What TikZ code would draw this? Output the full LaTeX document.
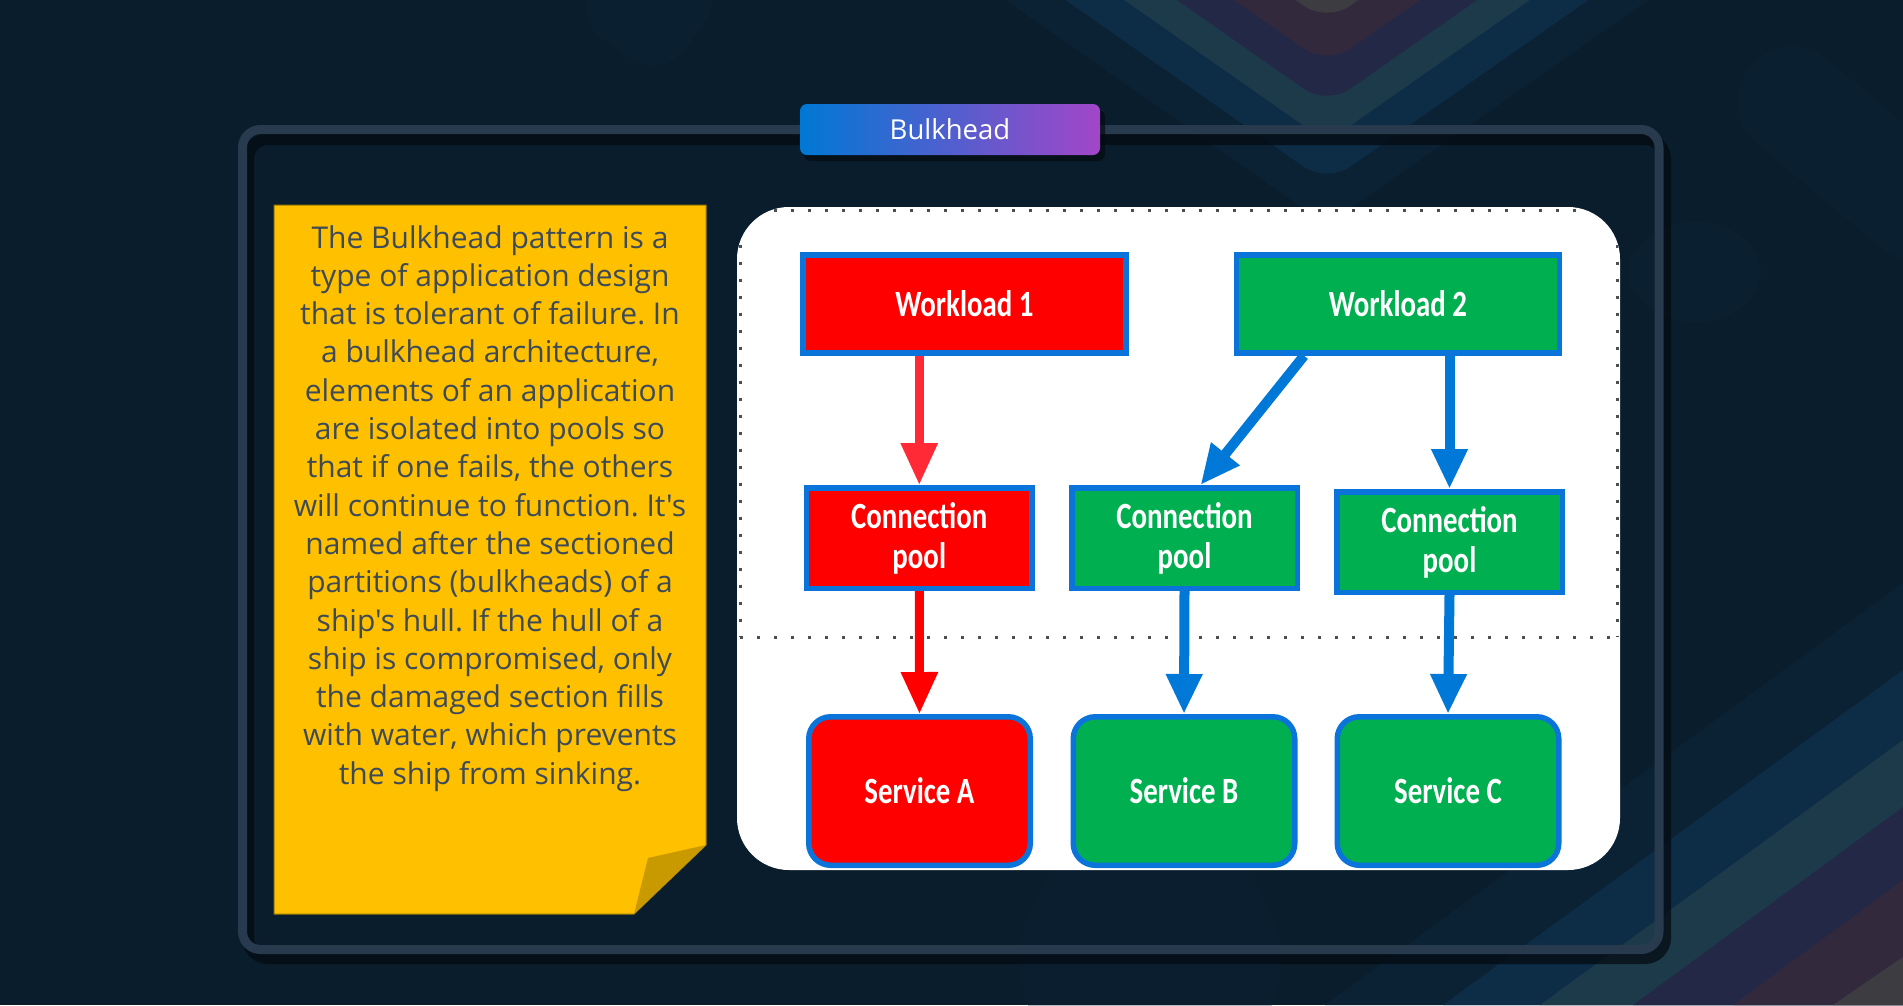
\documentclass[tikz,border=0pt]{standalone}
\usepackage{fontspec}
\setmainfont{Open Sans}
\newfontfamily\notefont{Open Sans}
\newfontfamily\boxfont[FakeStretch=0.78]{Carlito}
\usetikzlibrary{arrows.meta,calc}

\definecolor{bg}{HTML}{0A1D2C}
\definecolor{framec}{HTML}{283A4D}
\definecolor{shadowc}{HTML}{040B12}
\definecolor{noteyellow}{HTML}{FFC000}
\definecolor{notefold}{HTML}{C99A00}
\definecolor{noteedge}{HTML}{9A7800}
\definecolor{notetext}{HTML}{3D4A58}
\definecolor{boxred}{HTML}{FF0000}
\definecolor{boxgreen}{HTML}{00B050}
\definecolor{boxblue}{HTML}{0A74DA}
\definecolor{arrowblue}{HTML}{0078D7}
\definecolor{arrowred}{HTML}{FF2A36}
\definecolor{dotgray}{HTML}{4A4F56}
\definecolor{badgeL}{HTML}{0078D4}
\definecolor{badgeR}{HTML}{A246C8}
\definecolor{vA}{HTML}{0B2235}
\definecolor{vB}{HTML}{0D2C45}
\definecolor{vC}{HTML}{1D3A4A}
\definecolor{vD}{HTML}{222845}
\definecolor{vE}{HTML}{33293D}
\definecolor{vF}{HTML}{3C3C41}
\definecolor{blob}{HTML}{0C2336}

\begin{document}
\frenchspacing
\begin{tikzpicture}[x=1pt,y=-1pt,
  flowbox/.style={draw=boxblue, line width=5.5pt, text=white,
    font=\boxfont\bfseries\fontsize{37}{40}\selectfont, align=center, inner sep=0pt},
  redbox/.style={flowbox, fill=boxred},
  greenbox/.style={flowbox, fill=boxgreen},
  wlbox/.style={minimum width=323pt, minimum height=98pt},
  cpbox/.style={minimum width=225.5pt, minimum height=100.5pt},
  svbox/.style={minimum width=221.5pt, minimum height=148.5pt, rounded corners=22pt},
  redarrow/.style={draw=arrowred, line width=9pt, -{Triangle[length=42pt,width=35pt]}},
  bluearrow/.style={draw=arrowblue, line width=10pt, -{Triangle[length=40pt,width=34pt]}},
  vband/.style={rounded corners=28pt},
]
% background
\fill[bg] (0,0) rectangle (1903,1005);
\useasboundingbox (0,0) rectangle (1903,1005);

% top chevrons
\foreach \a/\c in {225/vA,183/vB,142/vC,105/vD,65/vE,22/vF}{
  \fill[\c, vband] ({1327-(\a+60)/0.7},-60) -- (1327,\a) -- ({1327+(\a+60)/0.7},-60) -- cycle;
}
% bottom-right bands
\fill[vA] (1325,1005) -- (1903,583) -- (1903,1005) -- cycle;
\fill[vB] (1443,1005) -- (1903,670) -- (1903,1005) -- cycle;
\fill[vC] (1540,1005) -- (1903,740) -- (1903,1005) -- cycle;
\fill[vD] (1633,1005) -- (1903,807) -- (1903,1005) -- cycle;
\fill[vE] (1733,1005) -- (1903,880) -- (1903,1005) -- cycle;
\fill[vF] (1833,1005) -- (1903,957) -- (1903,1005) -- cycle;

% faint blobs
\fill[blob, opacity=0.45] (1695,272) ellipse [x radius=66, y radius=50];
\fill[blob, opacity=0.35, rotate around={-40:(1850,150)}, rounded corners=55pt] (1720,95) rectangle (1990,205);
\fill[blob, opacity=0.35, rotate around={-35:(640,10)}, rounded corners=40pt] (585,-60) rectangle (700,55);
\fill[blob, opacity=0.3] (1150,960) circle [radius=130];

% frame shadow and frame
\draw[shadowc, opacity=0.75, line width=12pt, rounded corners=20pt] (248,139) rectangle (1665,958);
\draw[framec, line width=9pt, rounded corners=18pt] (242.5,129.5) rectangle (1659,949.5);

% badge
\fill[shadowc, opacity=0.7, rounded corners=7pt] (804,110) rectangle (1105,161);
\shade[left color=badgeL, right color=badgeR, rounded corners=7pt] (800,104) rectangle (1100,155);
\node[text=white, font=\notefont\fontsize{27.5}{30}\selectfont, inner sep=0pt] (badge) at (950,129.5) {Bulkhead};

% sticky note
\fill[noteyellow, draw=noteedge, line width=1pt] (274,205) -- (706,205) -- (706,845) -- (634,914) -- (274,914) -- cycle;
\fill[notefold] (706,845) -- (648,858) -- (634,914) -- cycle;
\node[anchor=north, inner sep=0pt, align=center, text=notetext,
  font=\notefont\fontsize{30}{38.3}\selectfont] (note) at (490,225)
{The Bulkhead pattern is a\\
type of application design\\
that is tolerant of failure. In\\
a bulkhead architecture,\\
elements of an application\\
are isolated into pools so\\
that if one fails, the others\\
will continue to function. It's\\
named after the sectioned\\
partitions (bulkheads) of a\\
ship's hull. If the hull of a\\
ship is compromised, only\\
the damaged section fills\\
with water, which prevents\\
the ship from sinking.};

% diagram panel
\fill[white, rounded corners=52pt] (737,207) rectangle (1620,870);
\begin{scope}
\clip[rounded corners=52pt] (737,207) rectangle (1620,870);
\draw[dotgray, line width=3pt, dash pattern=on 3pt off 14pt] (740,210.5) -- (1617,210.5);
\draw[dotgray, line width=3pt, dash pattern=on 3pt off 14pt] (740,210.5) -- (740,637);
\draw[dotgray, line width=3pt, dash pattern=on 3pt off 14pt] (1617,210.5) -- (1617,637);
\draw[dotgray, line width=3pt, dash pattern=on 3pt off 14pt] (740,637) -- (1617,637);

\node[redbox, wlbox] (w1) at (964.5,304) {Workload 1};
\node[greenbox, wlbox] (w2) at (1398,304) {Workload 2};
\node[redbox, cpbox] (cp1) at (919.25,538) {Connection\\pool};
\node[greenbox, cpbox] (cp2) at (1184.5,538) {Connection\\pool};
\node[greenbox, cpbox] (cp3) at (1449.5,542) {Connection\\pool};
\node[redbox, svbox] (sa) at (919.5,791) {Service A};
\node[greenbox, svbox] (sb) at (1184,791) {Service B};
\node[greenbox, svbox] (sc) at (1448,791) {Service C};

\draw[redarrow] (w1.south -| cp1.north) -- (cp1.north);
\draw[redarrow, draw=boxred] (cp1.south) -- (sa.north);
\draw[bluearrow] ([xshift=-94pt]w2.south) -- ([xshift=16pt]cp2.north);
\draw[bluearrow] (w2.south -| cp3.north) -- (cp3.north);
\draw[bluearrow] (cp2.south) -- (sb.north);
\draw[bluearrow] (cp3.south) -- (sc.north);
\end{scope}
\end{tikzpicture}
\end{document}
